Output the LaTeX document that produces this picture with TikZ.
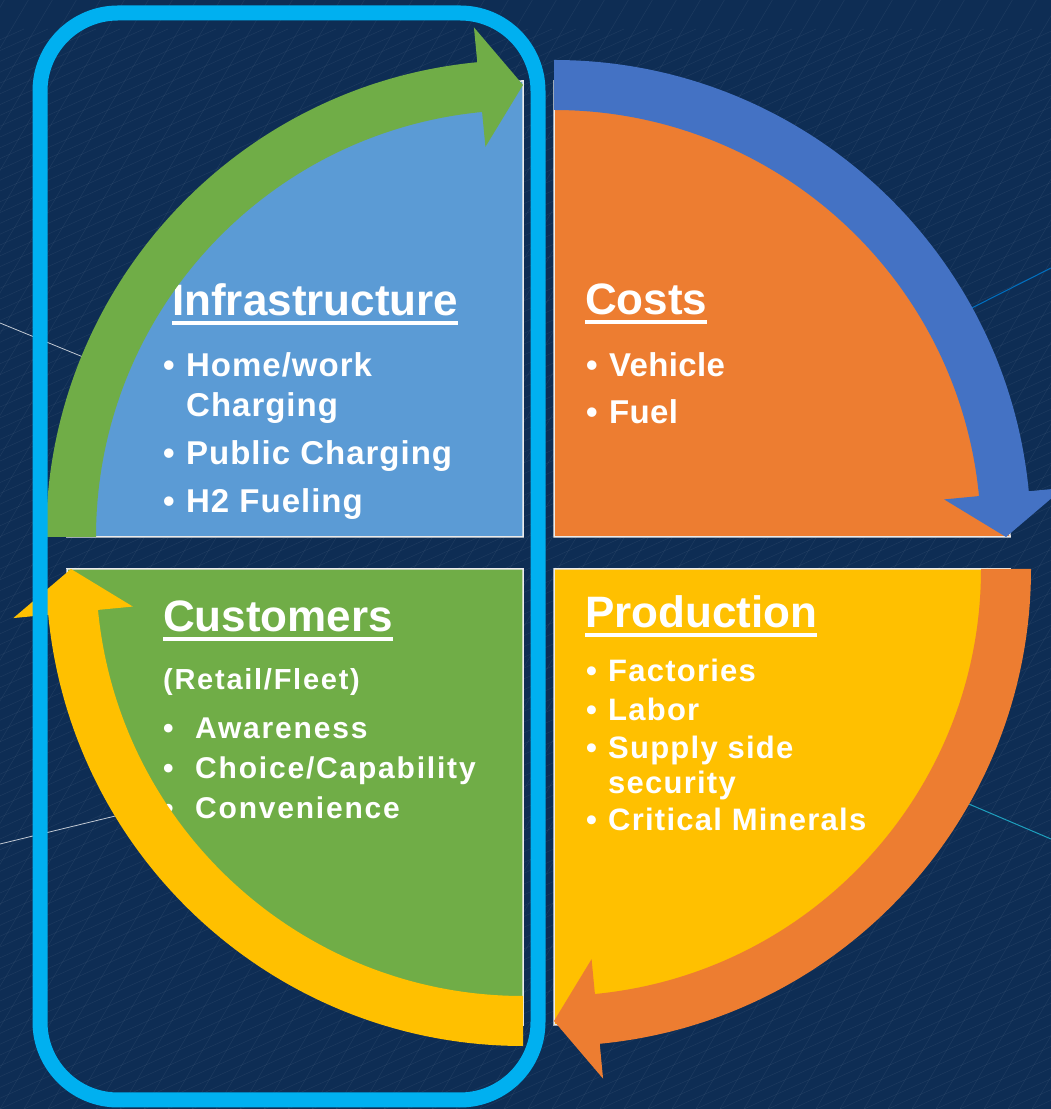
\documentclass[tikz,border=0pt]{standalone}
\usepackage{fontspec}
\setmainfont{Liberation Sans}
\usetikzlibrary{calc}

\definecolor{navy}{RGB}{14,45,84}
\definecolor{infrablue}{RGB}{91,155,213}
\definecolor{costorange}{RGB}{237,125,49}
\definecolor{custgreen}{RGB}{112,173,71}
\definecolor{prodyellow}{RGB}{255,192,0}
\definecolor{arrowblue}{RGB}{68,114,196}
\definecolor{framecyan}{RGB}{0,176,240}
\definecolor{thinblue}{RGB}{0,112,192}
\definecolor{thinteal}{RGB}{30,160,190}

% underlined heading
\newlength{\hdrwd}
\newcommand{\hdr}[1]{\settowidth{\hdrwd}{#1}\rlap{\rule[-9pt]{\hdrwd}{4pt}}#1}

% circular arrow: colour, centre, start angle, head base angle, tip angle
\newcommand{\circarrow}[5]{%
  \fill[#1] ($(#2)+(#3:477)$) arc[start angle=#3, end angle=#4, radius=477]
    -- ($(#2)+(#4:512)$) -- ($(#2)+(#5:452)$) -- ($(#2)+(#4:392)$)
    -- ($(#2)+(#4:427)$) arc[start angle=#4, end angle=#3, radius=427] -- cycle;}

\begin{document}
\begin{tikzpicture}[x=1pt,y=1pt,
    quad/.style={draw=white!92!black, line width=1.5pt},
    hatch/.style={white, opacity=0.06, line width=0.6pt},
    heading/.style={anchor=base west, inner sep=0pt, text=white,
      font=\bfseries\fontsize{44}{50}\selectfont},
    items/.style={anchor=base west, inner sep=0pt, text=white}]
    \useasboundingbox (0,0) rectangle (1051,1109);

    % Background
    \fill[navy] (0,0) rectangle (1051,1109);
    \begin{scope}
        \clip (0,0) rectangle (1051,1109);
        \foreach \i in {-100,...,44}
            \draw[hatch] (\i*24,0) -- ++(2400,1080);
        \foreach \i in {-30,...,44}
            \draw[hatch] (\i*24,0) -- ++(700,1190);
    \end{scope}
    \draw[white!75!navy, line width=0.8pt] (0,786) -- (110,741);
    \draw[white!75!navy, line width=0.8pt] (0,265) -- (140,299);
    \draw[thinblue, line width=1pt] (1051,841) -- (950,790);
    \draw[thinteal, line width=1pt] (1051,270) -- (950,313);

    % Centres of the four quadrants
    \coordinate (infra-c) at (523,572);
    \coordinate (cost-c) at (554,572);
    \coordinate (cust-c) at (523,540);
    \coordinate (prod-c) at (554,540);

    % Quadrants
    \filldraw[quad, fill=infrablue] (infra-c) -- ++(180:456) arc[start angle=180, end angle=90, radius=456] -- cycle;
    \filldraw[quad, fill=costorange] (cost-c) -- ++(90:456) arc[start angle=90, end angle=0, radius=456] -- cycle;
    \filldraw[quad, fill=custgreen] (cust-c) -- ++(270:456) arc[start angle=270, end angle=180, radius=456] -- cycle;
    \filldraw[quad, fill=prodyellow] (prod-c) -- ++(0:456) arc[start angle=0, end angle=-90, radius=456] -- cycle;

    % Texts
    \node[heading] (infra-title) at (172,793) {\hdr{Infrastructure}};
    \node[items, font=\bfseries\fontsize{33}{40}\selectfont\addfontfeature{LetterSpace=3}] (infra-list) at (163,732) {%
        \begin{tabular}[t]{@{}p{23pt}@{}l@{}}
            \textbullet & Home/work\\
            & Charging\\[8pt]
            \textbullet & Public Charging\\[8pt]
            \textbullet & H2 Fueling
        \end{tabular}};

    \node[heading] (cost-title) at (585,794) {\hdr{Costs}};
    \node[items, font=\bfseries\fontsize{33}{47}\selectfont\addfontfeature{LetterSpace=1}] (cost-list) at (586,732) {%
        \begin{tabular}[t]{@{}p{23pt}@{}l@{}}
            \textbullet & Vehicle\\
            \textbullet & Fuel
        \end{tabular}};

    \node[heading] (cust-title) at (163,477) {\hdr{Customers}};
    \node[items, font=\bfseries\fontsize{29}{34}\selectfont\addfontfeature{LetterSpace=6}] (cust-sub) at (163,419) {(Retail/Fleet)};
    \node[items, font=\bfseries\fontsize{30}{40}\selectfont\addfontfeature{LetterSpace=6}] (cust-list) at (163,370) {%
        \begin{tabular}[t]{@{}p{32pt}@{}l@{}}
            \textbullet & Awareness\\
            \textbullet & Choice/Capability\\
            \textbullet & Convenience
        \end{tabular}};

    \node[heading] (prod-title) at (585,481) {\hdr{Production}};
    \node[items, font=\bfseries\fontsize{31}{35}\selectfont\addfontfeature{LetterSpace=4}] (prod-list) at (586,427) {%
        \begin{tabular}[t]{@{}p{22pt}@{}l@{}}
            \textbullet & Factories\\[4pt]
            \textbullet & Labor\\[3pt]
            \textbullet & Supply side\\
            & security\\[2pt]
            \textbullet & Critical Minerals
        \end{tabular}};

    % Cycle arrows
    \circarrow{custgreen}{infra-c}{180}{95.5}{90}
    \circarrow{arrowblue}{cost-c}{90}{5.5}{0}
    \circarrow{costorange}{prod-c}{0}{-84.5}{-90}
    \circarrow{prodyellow}{cust-c}{270}{185.5}{180}

    % Frame round the left half
    \draw[framecyan, line width=15pt, rounded corners=78pt] (40,9) rectangle (538,1096);
\end{tikzpicture}
\end{document}
